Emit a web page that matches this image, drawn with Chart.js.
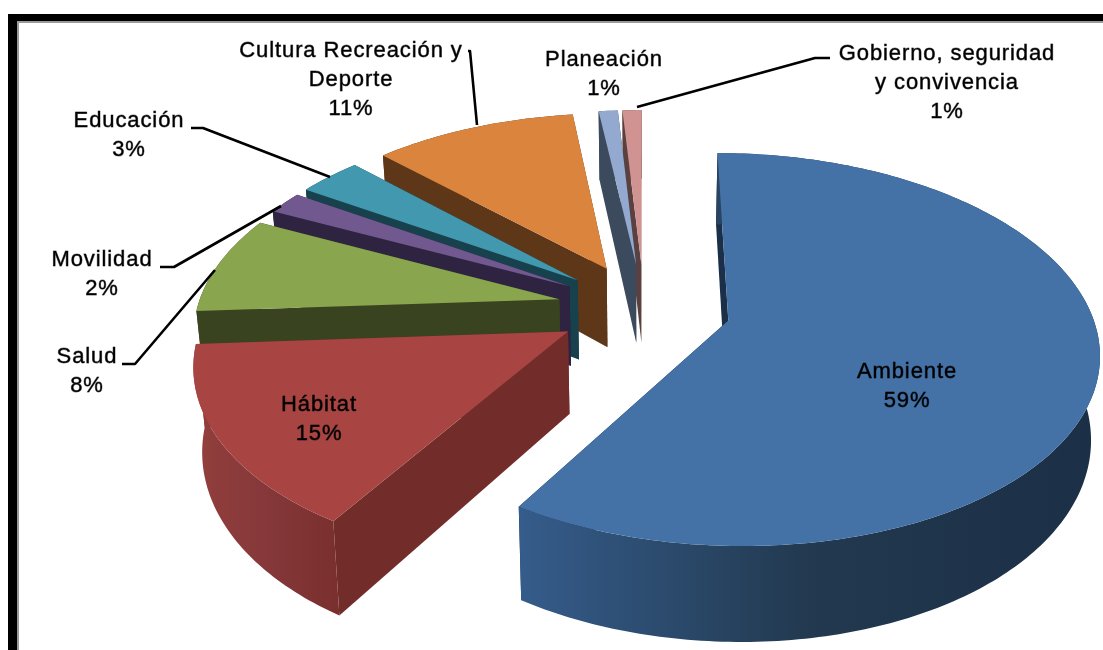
<!DOCTYPE html>
<html><head><meta charset="utf-8">
<style>html,body{margin:0;padding:0;background:#fff}canvas{display:block}</style>
<script src="https://cdn.jsdelivr.net/npm/chart.js@4"></script>
</head><body><canvas id="c" width="1103" height="650"></canvas>
<script>
const categories=["Ambiente","Hábitat","Salud","Movilidad","Educación","Cultura Recreación y Deporte","Planeación","Gobierno, seguridad y convivencia"];
const values=[58.9,15.1,8.2,1.9,3.3,10.6,1,1];
const topColors=["#4472A7","#A84543","#89A54E","#71588F","#4198AF","#DB843D","#93A9CF","#D19392"];
const cutColors=["#1B3048","#722D2B","#3A431F","#2E2340","#17414D","#5D3718","#3C4A5E","#5B4040"];
const wallLeft=["#355C8B","#933F3C","#3A431F","#2E2340","#17414D","#5D3718","#3C4A5E","#5B4040"];
const wallMid=["#22394F","#86383A","#3A431F","#2E2340","#17414D","#5D3718","#3C4A5E","#5B4040"];
const wallRight=["#1B2F47","#7A302E","#3A431F","#2E2340","#17414D","#5D3718","#3C4A5E","#5B4040"];
const labelLines=[["Ambiente"],["Hábitat"],["Salud"],["Movilidad"],["Educación"],["Cultura Recreación y","Deporte"],["Planeación"],["Gobierno, seguridad","y convivencia"]];
const labelX=[907,319,87,102,129,351,604,947];
const labelY=[372,405,357,260,121,51,60,54];
const leaders=[null,null,[[122,364],[135,364],[215,270]],[[160,267],[174,267],[281,206]],[[191,128],[203,128],[330,177]],[[468,51],[470,51],[477,125]],null,[[830,58],[815,58],[637,107]]];
const VIEW={cx:644,cy:308,A:362,B:188.5,p:0.146,D:81,shrink:0.02};
function project(u,v,bottom){
  const w=1+VIEW.p*v;
  const xw=bottom?w*(1+VIEW.shrink):w;
  return [VIEW.cx+VIEW.A*u/xw, VIEW.cy+(-VIEW.B*v+(bottom?VIEW.D:0))/w];
}
function poly(ctx,pts,fill){
  ctx.beginPath();pts.forEach((p,i)=>i?ctx.lineTo(p[0],p[1]):ctx.moveTo(p[0],p[1]));ctx.closePath();
  ctx.fillStyle=fill;ctx.fill();
}
const pie3d={id:'pie3d',
  beforeDraw(chart){
    const c=chart.ctx;c.save();c.fillStyle='#fff';c.fillRect(0,0,1103,650);
    c.fillStyle='#000';c.fillRect(8,14,1095,7);c.fillRect(8,14,9,636);
    c.fillStyle='#9a9a9a';c.fillRect(17,21,1086,2);c.fillRect(17,21,2,629);c.restore();
  },
  beforeDatasetDraw(chart,args){
    const c=chart.ctx,arcs=args.meta.data;
    const geo=arcs.map(a=>{
      const s=a.startAngle+Math.PI/2,e=a.endAngle+Math.PI/2,m=(s+e)/2,off=a.options.offset/a.outerRadius;
      const ox=off*Math.sin(m),oy=off*Math.cos(m),top=[],bot=[],n=Math.max(2,Math.ceil((e-s)*60));
      for(let i=0;i<=n;i++){const t=s+(e-s)*i/n,u=ox+Math.sin(t),v=oy+Math.cos(t);top.push(project(u,v,false));bot.push(project(u,v,true));}
      return {top,bot,at:project(ox,oy,false),ab:project(ox,oy,true)};
    });
    for(let i=arcs.length-1;i>=0;i--){
      const g=geo[i],L=g.top.length-1;
      poly(c,[g.at,g.top[0],g.bot[0],g.ab],cutColors[i]);
      poly(c,[g.at,g.top[L],g.bot[L],g.ab],cutColors[i]);
      const xs=g.top.map(p=>p[0]),x0=Math.min(...xs),x1=Math.max(...xs);
      const gr=c.createLinearGradient(x0,0,x1,0);
      gr.addColorStop(0,wallLeft[i]);gr.addColorStop(0.5,wallMid[i]);gr.addColorStop(1,wallRight[i]);
      poly(c,g.top.concat(g.bot.slice().reverse()),gr);
      poly(c,[g.at].concat(g.top),arcs[i].options.backgroundColor);
    }
    return false;
  },
  afterDraw(chart){
    const c=chart.ctx;c.save();
    c.strokeStyle='#000';c.lineWidth=2.6;c.lineJoin='round';
    leaders.forEach(l=>{if(!l)return;c.beginPath();l.forEach((p,i)=>i?c.lineTo(p[0],p[1]):c.moveTo(p[0],p[1]));c.stroke();});
    c.fillStyle='#000';c.font='22px "Liberation Sans", Arial, sans-serif';c.textAlign='center';c.textBaseline='middle';
    if('letterSpacing' in c)c.letterSpacing='0.9px';
    categories.forEach((n,i)=>{
      const lines=labelLines[i].concat([Math.round(values[i])+'%']);
      lines.forEach((t,j)=>{const y=labelY[i]+j*29;c.fillText(t,labelX[i],y);c.strokeStyle='rgba(0,0,0,0.55)';c.lineWidth=0.8;c.strokeText(t,labelX[i],y);});
    });
    c.restore();
  }
};
new Chart(document.getElementById('c'),{type:'pie',
  data:{labels:categories,datasets:[{data:values,backgroundColor:topColors,borderWidth:0,offset:60}]},
  options:{responsive:false,animation:false,radius:250,rotation:0,
    plugins:{legend:{display:false},tooltip:{enabled:false}}},
  plugins:[pie3d]});
</script></body></html>
